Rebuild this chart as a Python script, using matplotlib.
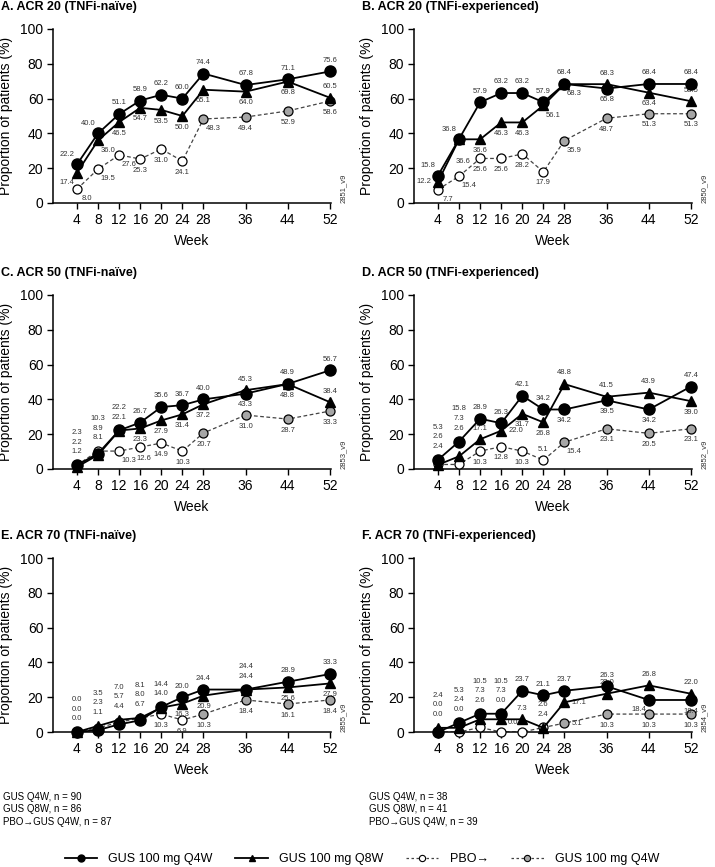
import matplotlib.pyplot as plt
import numpy as np

plt.rcParams['font.family'] = ['Liberation Sans', 'DejaVu Sans']

weeks = [4, 8, 12, 16, 20, 24, 28, 36, 44, 52]
switch_idx = 6  # from week 28 the PBO group gets GUS 100 mg Q4W

# A. ACR 20 (TNFi-naive)
a_q4w = [22.2, 40.0, 51.1, 58.9, 62.2, 60.0, 74.4, 67.8, 71.1, 75.6]
a_q8w = [17.4, 36.0, 46.5, 54.7, 53.5, 50.0, 65.1, 64.0, 69.8, 60.5]
a_pbo = [8.0, 19.5, 27.6, 25.3, 31.0, 24.1, 48.3, 49.4, 52.9, 58.6]
# B. ACR 20 (TNFi-experienced)
b_q4w = [15.8, 36.8, 57.9, 63.2, 63.2, 57.9, 68.4, 65.8, 68.4, 68.4]
b_q8w = [12.2, 36.6, 36.6, 46.3, 46.3, 56.1, 68.3, 68.3, 63.4, 58.5]
b_pbo = [7.7, 15.4, 25.6, 25.6, 28.2, 17.9, 35.9, 48.7, 51.3, 51.3]
# C. ACR 50 (TNFi-naive)
c_q4w = [2.2, 8.9, 22.2, 26.7, 35.6, 36.7, 40.0, 43.3, 48.9, 56.7]
c_q8w = [1.2, 8.1, 22.1, 23.3, 27.9, 31.4, 37.2, 45.3, 48.8, 38.4]
c_pbo = [2.3, 10.3, 10.3, 12.6, 14.9, 10.3, 20.7, 31.0, 28.7, 33.3]
# D. ACR 50 (TNFi-experienced)
d_q4w = [5.3, 15.8, 28.9, 26.3, 42.1, 34.2, 34.2, 39.5, 34.2, 47.4]
d_q8w = [2.4, 7.3, 17.1, 22.0, 31.7, 26.8, 48.8, 41.5, 43.9, 39.0]
d_pbo = [2.6, 2.6, 10.3, 12.8, 10.3, 5.1, 15.4, 23.1, 20.5, 23.1]
# E. ACR 70 (TNFi-naive)
e_q4w = [0.0, 1.1, 4.4, 6.7, 14.4, 20.0, 24.4, 24.4, 28.9, 33.3]
e_q8w = [0.0, 3.5, 7.0, 8.1, 14.0, 16.3, 20.9, 24.4, 25.6, 27.9]
e_pbo = [0.0, 2.3, 5.7, 8.0, 10.3, 6.9, 10.3, 18.4, 16.1, 18.4]
# F. ACR 70 (TNFi-experienced)
f_q4w = [0.0, 5.3, 10.5, 10.5, 23.7, 21.1, 23.7, 26.3, 18.4, 18.4]
f_q8w = [2.4, 2.4, 7.3, 7.3, 7.3, 2.4, 17.1, 22.0, 26.8, 22.0]
f_pbo = [0.0, 0.0, 2.6, 0.0, 0.0, 2.6, 5.1, 10.3, 10.3, 10.3]

titles = ['A. ACR 20 (TNFi-naïve)', 'B. ACR 20 (TNFi-experienced)',
          'C. ACR 50 (TNFi-naïve)', 'D. ACR 50 (TNFi-experienced)',
          'E. ACR 70 (TNFi-naïve)', 'F. ACR 70 (TNFi-experienced)']
codes = ['2851_v9', '2850_v9', '2853_v9', '2852_v9', '2855_v9', '2854_v9']
n_notes = [['GUS Q4W, n = 90', 'GUS Q8W, n = 86', 'PBO\u2192GUS Q4W, n = 87'],
           ['GUS Q4W, n = 38', 'GUS Q8W, n = 41', 'PBO\u2192GUS Q4W, n = 39']]

data = [(a_q4w, a_q8w, a_pbo), (b_q4w, b_q8w, b_pbo), (c_q4w, c_q8w, c_pbo),
        (d_q4w, d_q8w, d_pbo), (e_q4w, e_q8w, e_pbo), (f_q4w, f_q8w, f_pbo)]

# label placement (style only): default per series, overrides, stacked groups
offs = {'a': (0, 8, 'center'), 'b': (0, -8, 'center'),
        'al': (-7, 7, 'center'), 'bl': (-7, -7, 'center'),
        'ar': (7, 7, 'center'), 'br': (7, -7, 'center'),
        'bR': (3, -8, 'center'), 'bb': (3, -16, 'center'),
        'l': (-5, 0, 'right'), 'r': (5, 0, 'left')}
layout = [
    dict(default=('a', 'b', 'b'), stacks={},
         over={(0, 0): 'al', (0, 1): 'al', (1, 0): 'bl', (1, 1): 'br', (1, 9): 'a',
               (2, 0): 'br', (2, 1): 'br', (2, 2): 'br', (2, 6): 'br'}),
    dict(default=('a', 'b', 'b'), stacks={},
         over={(0, 0): 'al', (0, 1): 'al', (0, 7): 'b', (1, 0): 'l', (1, 1): 'bb',
               (1, 5): 'br', (1, 6): 'br', (1, 7): 'a', (1, 9): 'a',
               (2, 0): 'br', (2, 1): 'br', (2, 6): 'br'}),
    dict(default=('a', 'b', 'b'), stacks={0: (0, 1, 2), 1: (0, 1, 2), 2: (0, 1)},
         over={(0, 7): 'b', (1, 7): 'a', (1, 9): 'a', (2, 2): 'br', (2, 3): 'bR'}),
    dict(default=('a', 'b', 'b'), stacks={0: (0, 1, 2), 1: (0, 1, 2)},
         over={(0, 6): 'b', (0, 7): 'b', (0, 8): 'b', (1, 2): 'a', (1, 3): 'r',
               (1, 6): 'a', (1, 7): 'a', (1, 8): 'a', (2, 5): 'a',
               (2, 6): 'br'}),
    dict(default=('a', 'b', 'b'), stacks={0: (0, 1, 2), 1: (0, 1, 2), 2: (0, 1, 2),
                                          3: (0, 1, 2), 4: (0, 1), 7: (0, 1)},
         over={}),
    dict(default=('a', 'a', 'b'), stacks={0: (0, 1, 2), 1: (0, 1, 2), 2: (0, 1, 2),
                                          3: (0, 1, 2), 5: (1, 2)},
         over={(0, 8): 'bl', (0, 9): 'b', (1, 6): 'r', (2, 4): 'al', (2, 6): 'r'}),
]

W, H = 715, 867
fig = plt.figure(figsize=(W / 100, H / 100), dpi=100)
col_left = [53, 414]
row_top = [29, 295, 558]
ax_w, ax_h = 278, 174
txt_col = '#333333'

for k in range(6):
    r, c = divmod(k, 2)
    left, top = col_left[c], row_top[r]
    ax = fig.add_axes([left / W, (H - top - ax_h) / H, ax_w / W, ax_h / H])
    q4w, q8w, pbo = data[k]
    x = np.array(weeks)

    ax.plot(x, pbo, color='#444444', lw=0.9, dashes=(3, 2), zorder=2)
    ax.plot(x[:switch_idx], pbo[:switch_idx], ls='none', marker='o', ms=6.5,
            mfc='white', mec='black', mew=0.9, zorder=3, clip_on=False)
    ax.plot(x[switch_idx:], pbo[switch_idx:], ls='none', marker='o', ms=6.5,
            mfc='#a6a6a6', mec='black', mew=0.9, zorder=3, clip_on=False)
    ax.plot(x, q8w, color='black', lw=1.3, marker='^', ms=7, zorder=4, clip_on=False)
    ax.plot(x, q4w, color='black', lw=1.3, marker='o', ms=8, zorder=5, clip_on=False)

    series = (q4w, q8w, pbo)
    lay = layout[k]
    stacked = set()
    for i, members in lay['stacks'].items():
        top_val = max(series[s][i] for s in members)
        order = sorted(members, key=lambda s: -series[s][i])
        for j, s in enumerate(order[::-1]):
            stacked.add((s, i))
            ax.annotate(f'{series[s][i]:.1f}', (weeks[i], top_val),
                        xytext=(0, 9.5 + 7 * j), textcoords='offset points',
                        ha='center', va='center', fontsize=5.5, color=txt_col)
    for s in range(3):
        for i, v in enumerate(series[s]):
            if (s, i) in stacked:
                continue
            code = lay['over'].get((s, i), lay['default'][s])
            dx, dy, ha = offs[code]
            ax.annotate(f'{v:.1f}', (weeks[i], v), xytext=(dx, dy),
                        textcoords='offset points', ha=ha, va='center',
                        fontsize=5.5, color=txt_col)

    ax.set_xlim(-0.55, 52.2)
    ax.set_ylim(0, 100)
    ax.set_xticks(weeks)
    ax.set_yticks([0, 20, 40, 60, 80, 100])
    ax.tick_params(direction='out', length=4, width=1, labelsize=10, pad=3)
    for sp in ('top', 'right'):
        ax.spines[sp].set_visible(False)
    for sp in ('left', 'bottom'):
        ax.spines[sp].set_linewidth(1.1)
    ax.set_xlabel('Week', fontsize=10, labelpad=5)
    ax.set_ylabel('Proportion of patients (%)', fontsize=10)
    ax.yaxis.set_label_coords(-40 / ax_w, 0.5)

    fig.text((left - 53 + 1) / W if c == 0 else (left - 52) / W,
             1 - (top - 22) / H, titles[k], fontsize=9, fontweight='bold',
             ha='left', va='center')
    fig.text((left + ax_w + 12) / W, 1 - (top + ax_h - 15) / H, codes[k],
             rotation=90, fontsize=5.5, ha='center', va='center', color=txt_col)

for c in range(2):
    for j, line in enumerate(n_notes[c]):
        fig.text((3 + 366 * c) / W, 1 - (797 + 12.5 * j) / H, line,
                 fontsize=7, ha='left', va='center')

handles = [
    plt.Line2D([], [], color='black', lw=1.3, marker='o', ms=5),
    plt.Line2D([], [], color='black', lw=1.3, marker='^', ms=5),
    plt.Line2D([], [], color='#444444', lw=0.9, dashes=(2, 2), marker='o', ms=4.5,
               mfc='white', mec='black', mew=0.8),
    plt.Line2D([], [], color='#444444', lw=0.9, dashes=(2, 2), marker='o', ms=4.5,
               mfc='#a6a6a6', mec='black', mew=0.8),
]
labels = ['GUS 100 mg Q4W', 'GUS 100 mg Q8W', 'PBO\u2192', 'GUS 100 mg Q4W']
fig.legend(handles, labels, loc='center', bbox_to_anchor=(362 / W, 1 - 859 / H),
           ncol=4, frameon=False, fontsize=9, handlelength=2.6, handletextpad=0.9,
           columnspacing=1.8)

fig.savefig('out.png', dpi=100)
